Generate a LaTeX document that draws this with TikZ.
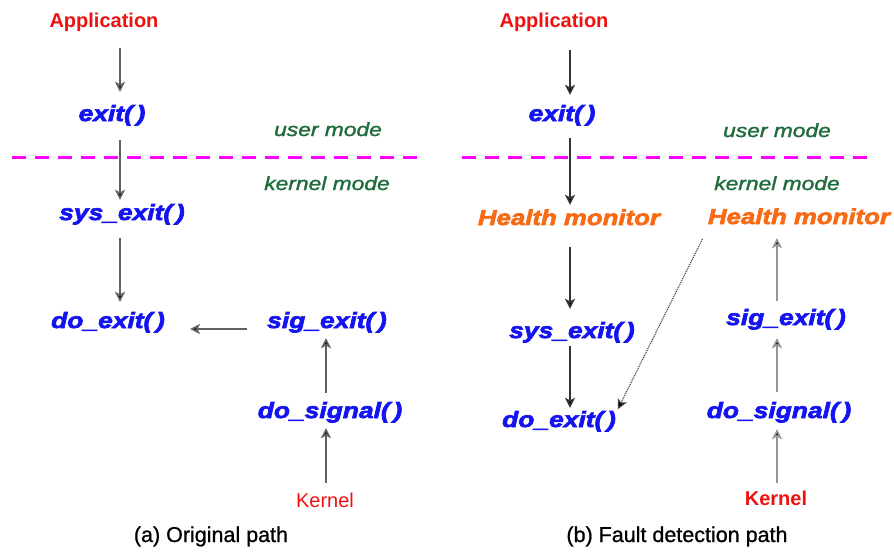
\documentclass[tikz,border=0pt]{standalone}
\usepackage{fontspec}
\setmainfont{Liberation Sans}
\newfontfamily\fnfont{Liberation Sans}[FakeStretch=1.2,BoldItalicFeatures={FakeBold=3},ItalicFeatures={FakeBold=1.6}]
\newfontfamily\capfont{Liberation Sans}[FakeBold=0.9]
\usetikzlibrary{arrows.meta}
\definecolor{fnblue}{HTML}{1414F0}
\definecolor{appred}{HTML}{F01010}
\definecolor{modegreen}{HTML}{1E6B3C}
\definecolor{hmorange}{HTML}{F86A14}
\definecolor{sepmagenta}{HTML}{FF00FF}
\tikzset{
  base/.style={inner sep=0pt, text height=14pt, text depth=4pt},
  fn/.style={base, text=fnblue, font=\fnfont\bfseries\itshape\fontsize{22}{24}\selectfont},
  hm/.style={base, text=hmorange, font=\fnfont\bfseries\itshape\fontsize{21.5}{24}\selectfont},
  mode/.style={base, text=modegreen, font=\fnfont\itshape\fontsize{19}{22}\selectfont},
  origin/.style={base, text=appred, font=\fontsize{20}{24}\selectfont},
  originbf/.style={origin, font=\bfseries\fontsize{20}{24}\selectfont},
  caption/.style={base, font=\capfont\fontsize{21.5}{24}\selectfont},
  tip/.style={-{Stealth[length=10pt,width=10pt,inset=2.5pt,fill=black]}},
  arr/.style={draw=black!62, line width=1.6pt, tip},
  arrlight/.style={arr, draw=black!42},
  arrdark/.style={arr, draw=black!80},
  separator/.style={draw=sepmagenta, line width=3pt, dash pattern=on 14pt off 9pt},
}
\begin{document}
\begin{tikzpicture}[x=1pt,y=-1pt]
\useasboundingbox (0,0) rectangle (894,552);

% column guides for the vertical connectors
\coordinate (cA) at (120,0);
\coordinate (cB) at (326,0);
\coordinate (cC) at (570,0);
\coordinate (cD) at (777,0);

% ---------------- (a) original path ----------------
\node[originbf] (appA) at (104,22) {Application};
\node[fn] (exitA) at (112,116) {exit(\,)};
\node[mode] (userA) at (328,131) {user mode};
\node[mode] (kernA) at (327,185) {kernel mode};
\node[fn] (sysA) at (122,215) {sys\_exit(\,)};
\node[fn] (doexA) at (108,323) {do\_exit(\,)};
\node[fn] (sigA) at (327,323) {sig\_exit(\,)};
\node[fn] (dosigA) at (330,413) {do\_signal(\,)};
\node[origin] (kA) at (325,502) {Kernel};
\node[caption] (capA) at (211,537) {(a) Original path};

\coordinate (sepA1) at (12,157);
\coordinate (sepA2) at (418,157);
\draw[separator] (sepA1) -- (sepA2);

\draw[arr, shorten <=17pt, shorten >=15pt] (appA.south -| cA) -- (exitA.north -| cA);
\draw[arr, shorten <=15pt, shorten >=6pt] (exitA.south -| cA) -- (sysA.north -| cA);
\draw[arr, shorten <=14pt, shorten >=12pt] (sysA.south -| cA) -- (doexA.north -| cA);
\draw[arr, shorten <=20pt, shorten >=25pt] ([yshift=-6pt]sigA.west) -- ([yshift=-6pt]doexA.east);
\draw[arr, shorten <=11pt, shorten >=6pt] (dosigA.north -| cB) -- (sigA.south -| cB);
\draw[arr, shorten <=10pt, shorten >=6pt] (kA.north -| cB) -- (dosigA.south -| cB);

% ---------------- (b) fault detection path ----------------
\node[originbf] (appB) at (554,22) {Application};
\node[fn] (exitB) at (562,116) {exit(\,)};
\node[mode] (userB) at (777,132) {user mode};
\node[mode] (kernB) at (777,185) {kernel mode};
\node[hm] (hmB) at (569,220) {Health monitor};
\node[hm] (hmR) at (799,219) {Health monitor};
\node[fn] (sysB) at (572,333) {sys\_exit(\,)};
\node[fn] (doexB) at (559,422) {do\_exit(\,)};
\node[fn] (sigB) at (786,320) {sig\_exit(\,)};
\node[fn] (dosigB) at (779,413) {do\_signal(\,)};
\node[originbf] (kB) at (776,500) {Kernel};
\node[caption] (capB) at (677,537) {(b) Fault detection path};

\coordinate (sepB1) at (462,157);
\coordinate (sepB2) at (868,157);
\draw[separator] (sepB1) -- (sepB2);

\draw[arrdark, shorten <=19pt, shorten >=12pt] (appB.south -| cC) -- (exitB.north -| cC);
\draw[arrdark, shorten <=13pt, shorten >=6pt] (exitB.south -| cC) -- (hmB.north -| cC);
\draw[arrdark, shorten <=18pt, shorten >=15pt] (hmB.south -| cC) -- (sysB.north -| cC);
\draw[arrdark, shorten <=4pt, shorten >=5pt] (sysB.south -| cC) -- (doexB.north -| cC);
\draw[arrlight, shorten <=10pt, shorten >=10pt] (sigB.north -| cD) -- (hmR.south -| cD);
\draw[arrlight, shorten <=12pt, shorten >=9pt] (dosigB.north -| cD) -- (sigB.south -| cD);
\draw[arrlight, shorten <=8pt, shorten >=7pt] (kB.north -| cD) -- (dosigB.south -| cD);
\draw[draw=black!75, line width=1.2pt, dash pattern=on 1pt off 1pt, tip,
      shorten <=12pt, shorten >=4pt] (hmR.south west) -- (doexB.north east);
\end{tikzpicture}
\end{document}
